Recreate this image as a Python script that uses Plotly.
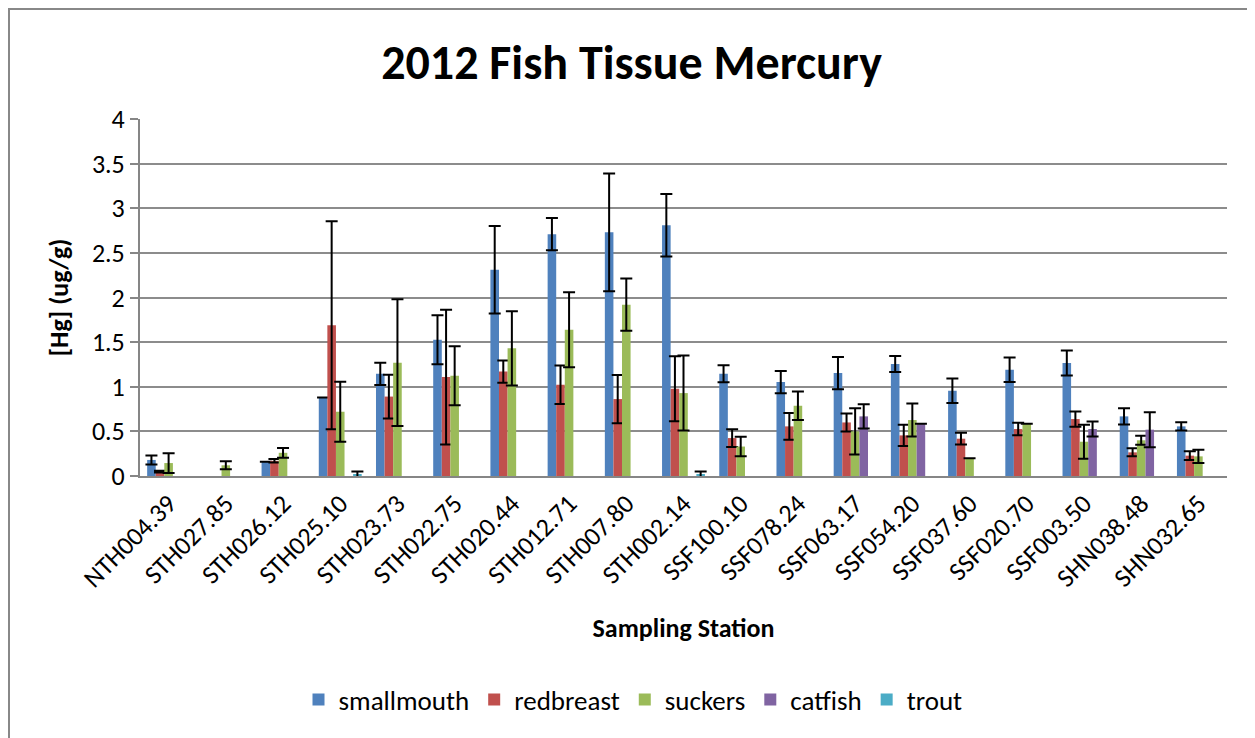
import plotly.graph_objects as go

stations = ["NTH004.39", "STH027.85", "STH026.12", "STH025.10", "STH023.73", "STH022.75",
            "STH020.44", "STH012.71", "STH007.80", "STH002.14", "SSF100.10", "SSF078.24",
            "SSF063.17", "SSF054.20", "SSF037.60", "SSF020.70", "SSF003.50", "SHN038.48",
            "SHN032.65"]

smallmouth = [0.18, None, 0.16, 0.88, 1.145, 1.526, 2.31, 2.71, 2.73, 2.81, 1.145, 1.052,
              1.153, 1.254, 0.955, 1.19, 1.265, 0.668, 0.556]
smallmouth_err = [0.05, None, 0.0, 0.0, 0.125, 0.275, 0.49, 0.18, 0.66, 0.35, 0.095, 0.125,
                  0.18, 0.09, 0.137, 0.138, 0.14, 0.092, 0.045]

redbreast = [0.05, None, 0.17, 1.69, 0.89, 1.108, 1.17, 1.022, 0.862, 0.978, 0.425, 0.556,
             0.60, 0.455, 0.418, 0.526, 0.638, 0.265, 0.228]
redbreast_err = [0.01, None, 0.02, 1.165, 0.245, 0.755, 0.125, 0.215, 0.27, 0.364, 0.10, 0.15,
                 0.10, 0.118, 0.066, 0.07, 0.086, 0.045, 0.05]

suckers = [0.145, 0.12, 0.26, 0.72, 1.27, 1.123, 1.43, 1.638, 1.92, 0.929, 0.33, 0.787,
           0.50, 0.627, 0.20, 0.586, 0.384, 0.40, 0.22]
suckers_err = [0.11, 0.045, 0.055, 0.335, 0.71, 0.33, 0.415, 0.42, 0.293, 0.42, 0.11, 0.16,
               0.26, 0.185, 0.0, 0.0, 0.19, 0.05, 0.075]

catfish = [None, None, None, None, None, None, None, None, None, None, None, None,
           0.668, 0.586, None, None, 0.526, 0.519, None]
catfish_err = [None, None, None, None, None, None, None, None, None, None, None, None,
               0.136, 0.0, None, None, 0.084, 0.196, None]

trout = [None, None, None, 0.02, None, None, None, None, None, 0.02, None, None,
         None, None, None, None, None, None, None]
trout_err = [None, None, None, 0.03, None, None, None, None, None, 0.03, None, None,
             None, None, None, None, None, None, None]

series = [
    ("smallmouth", smallmouth, smallmouth_err, "#4F81BD"),
    ("redbreast", redbreast, redbreast_err, "#C0504D"),
    ("suckers", suckers, suckers_err, "#9BBB59"),
    ("catfish", catfish, catfish_err, "#8064A2"),
    ("trout", trout, trout_err, "#4BACC6"),
]

FONT = "Carlito, Lato, 'Open Sans', sans-serif"

# page body has an 8px margin; figure is sized so that the plot lands where the reference has it
W, H = 1247, 730
L, R, T, B = 132, 28, 111, 262
PW, PH = W - L - R, H - T - B

fig = go.Figure()
for name, vals, errs, color in series:
    show_err = [e if e is not None else 0 for e in errs]
    fig.add_trace(go.Bar(
        name=name, x=stations, y=vals,
        marker=dict(color=color, line=dict(width=0)),
        error_y=dict(type="data", array=show_err, visible=True,
                     color="black", thickness=2, width=6),
    ))

fig.update_layout(
    width=W, height=H,
    barmode="group", bargap=0.25, bargroupgap=0,
    paper_bgcolor="white", plot_bgcolor="white",
    margin=dict(l=L, r=R, t=T, b=B, autoexpand=False),
    font=dict(family=FONT, color="black", size=24),
    title=dict(text="<b>2012 Fish Tissue Mercury</b>", x=0.5, xref="container",
               y=1 - 54 / H, yref="container", yanchor="middle", xanchor="center",
               font=dict(size=48, family=FONT, color="black")),
    showlegend=True,
    legend=dict(orientation="h", x=(633 - 140) / PW, xanchor="center",
                y=(476 - 700) / PH, yanchor="middle",
                font=dict(size=27, family=FONT), traceorder="normal"),
    xaxis=dict(
        showline=True, linecolor="#868686", linewidth=2,
        tickangle=-45, tickfont=dict(size=26, family=FONT),
        ticks="", showgrid=False,
        title=dict(text="<b>Sampling Station</b>", font=dict(size=26, family=FONT), standoff=26),
        automargin=False,
    ),
    yaxis=dict(
        range=[0, 4], dtick=0.5,
        showline=True, linecolor="#868686", linewidth=2,
        showgrid=True, gridcolor="#8c8c8c", gridwidth=1.5,
        ticks="outside", ticklen=8, tickcolor="#868686", tickwidth=1.5,
        tickfont=dict(size=26, family=FONT),
        title=dict(text="<b>[Hg] (ug/g)</b>", font=dict(size=26, family=FONT), standoff=16),
        zeroline=False, automargin=False,
    ),
    shapes=[dict(type="rect", xref="paper", yref="paper",
                 x0=(-L + 1) / PW, x1=1.2, y0=-1.5, y1=(PH + T - 1) / PH,
                 line=dict(color="#888888", width=2), fillcolor="rgba(0,0,0,0)", layer="below")],
)

fig.write_html("out.html")
